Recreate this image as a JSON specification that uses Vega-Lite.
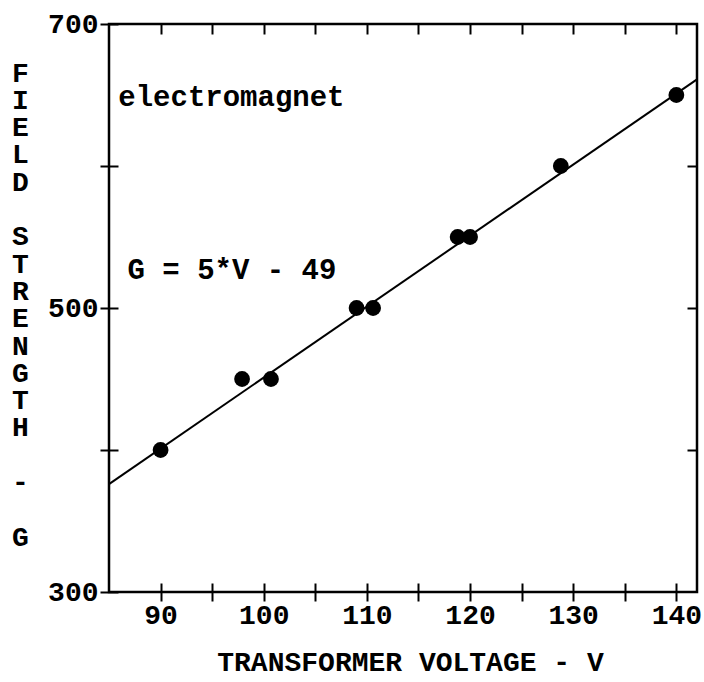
{
  "$schema": "https://vega.github.io/schema/vega-lite/v6.json",
  "width": 588,
  "height": 568,
  "autosize": {"type": "none"},
  "padding": {"left": 109, "top": 24, "right": 7, "bottom": 90},
  "background": "white",
  "config": {
    "view": {"stroke": "black", "strokeWidth": 2.5},
    "font": "Liberation Mono",
    "axis": {
      "domain": false,
      "grid": false,
      "tickColor": "black",
      "tickWidth": 2,
      "labelColor": "black",
      "titleColor": "black",
      "labelFont": "Liberation Mono",
      "labelFontWeight": "bold",
      "labelFontSize": 28,
      "titleFont": "Liberation Mono",
      "titleFontWeight": "bold",
      "titleFontSize": 28
    }
  },
  "datasets": {
    "points": [
      {"V": 90, "G": 400},
      {"V": 97.9, "G": 450},
      {"V": 100.7, "G": 450},
      {"V": 109, "G": 500},
      {"V": 110.6, "G": 500},
      {"V": 118.8, "G": 550},
      {"V": 120, "G": 550},
      {"V": 128.8, "G": 600},
      {"V": 140, "G": 650}
    ],
    "fit": [
      {"V": 85, "G": 376},
      {"V": 142, "G": 661}
    ],
    "notes": [
      {"V": 85.9, "G": 648.5, "label": "electromagnet"},
      {"V": 86.8, "G": 527, "label": "G = 5*V - 49"}
    ]
  },
  "resolve": {"axis": {"x": "independent", "y": "independent"}},
  "layer": [
    {
      "data": {"name": "fit"},
      "mark": {"type": "line", "color": "black", "strokeWidth": 2},
      "encoding": {
        "x": {
          "field": "V", "type": "quantitative",
          "scale": {"domain": [85, 142], "nice": false, "zero": false},
          "axis": {
            "orient": "bottom", "offset": -9, "tickSize": 18,
            "values": [90, 95, 100, 105, 110, 115, 120, 125, 130, 135, 140],
            "labelExpr": "datum.value % 10 == 0 ? datum.label : ''",
            "labelPadding": 0,
            "title": "TRANSFORMER VOLTAGE - V",
            "titleX": 301, "titleY": 79,
            "titleAlign": "center", "titleBaseline": "middle"
          }
        },
        "y": {
          "field": "G", "type": "quantitative",
          "scale": {"domain": [300, 700], "nice": false, "zero": false},
          "axis": {
            "orient": "left", "offset": -9, "tickSize": 18,
            "values": [300, 400, 500, 600, 700],
            "labelExpr": "datum.value % 200 == 100 ? datum.label : ''",
            "labelPadding": 2,
            "title": ["F", "I", "E", "L", "D", "\u2800", "S", "T", "R", "E", "N", "G", "T", "H", "\u2800", "-", "\u2800", "G"],
            "titleAngle": 0,
            "titleX": -98, "titleY": 49,
            "titleAlign": "center", "titleBaseline": "middle",
            "titleLineHeight": 27.3
          }
        }
      }
    },
    {
      "data": {"name": "points"},
      "mark": {"type": "circle", "size": 250, "color": "black", "opacity": 1},
      "encoding": {
        "x": {
          "field": "V", "type": "quantitative",
          "axis": {
            "orient": "top", "tickSize": -10, "labels": false, "title": null,
            "values": [90, 95, 100, 105, 110, 115, 120, 125, 130, 135, 140]
          }
        },
        "y": {
          "field": "G", "type": "quantitative",
          "axis": {
            "orient": "right", "tickSize": -10, "labels": false, "title": null,
            "values": [400, 500, 600]
          }
        }
      }
    },
    {
      "data": {"name": "notes"},
      "mark": {"type": "text", "align": "left", "baseline": "middle", "fontSize": 29, "fontWeight": "bold", "font": "Liberation Mono", "color": "black"},
      "encoding": {
        "x": {"field": "V", "type": "quantitative", "axis": null},
        "y": {"field": "G", "type": "quantitative", "axis": null},
        "text": {"field": "label"}
      }
    }
  ]
}
